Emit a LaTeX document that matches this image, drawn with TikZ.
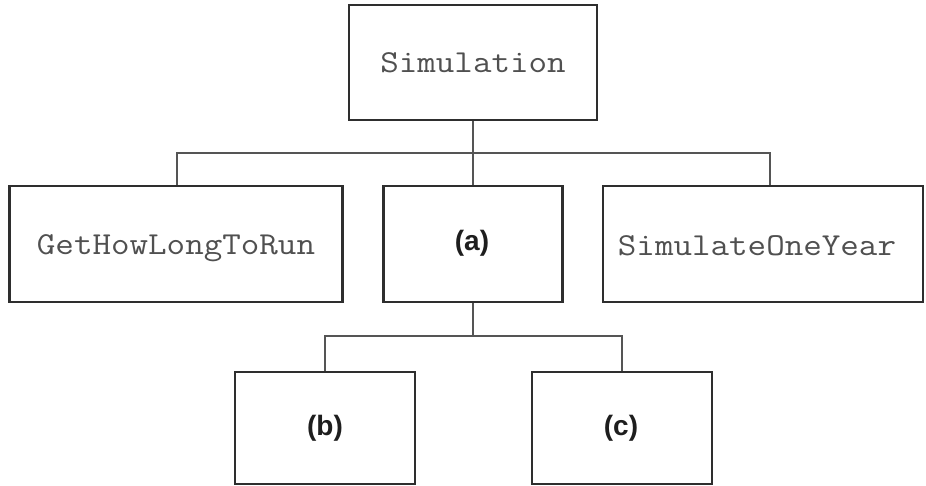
\documentclass[tikz,border=0pt]{standalone}
\usepackage{fontspec}
\setmainfont{Liberation Sans}
\newfontfamily\codefont{Latin Modern Mono}[FakeStretch=1.125]
\definecolor{boxline}{HTML}{2E2E2E}
\definecolor{connline}{HTML}{555555}
\definecolor{codetext}{HTML}{505050}
\definecolor{labeltext}{HTML}{1E1E1E}
\tikzset{
  modbox/.style={draw=boxline, line width=2.2pt, rectangle, inner sep=0pt},
  codelabel/.style={font=\codefont\fontsize{32}{33}\selectfont, text=codetext, text height=22pt, text depth=6pt},
  letterlabel/.style={font=\bfseries\fontsize{28}{29}\selectfont, text=labeltext, text height=20pt, text depth=6pt},
  conn/.style={draw=connline, line width=1.2pt}
}
\begin{document}
\begin{tikzpicture}[x=1pt,y=-1pt]
\useasboundingbox (0,0) rectangle (926,486);
\fill[white] (0,0) rectangle (926,486);
\node[modbox, minimum width=248pt, minimum height=115pt] (sim) at (473,62.5) {};
\node[codelabel] (simt) at (473,65) {Simulation};
\node[modbox, minimum width=333pt, minimum height=116pt] (ghl) at (176,244) {};
\node[codelabel] (ghlt) at (176,247) {GetHowLongToRun};
\node[modbox, minimum width=179pt, minimum height=116pt] (a) at (473,244) {};
\node[letterlabel] (at) at (472,243.5) {(a)};
\node[modbox, minimum width=180pt, minimum height=112pt] (b) at (325,428) {};
\node[letterlabel] (bt) at (325,428) {(b)};
\node[modbox, minimum width=320pt, minimum height=116pt] (soy) at (763,244) {};
\node[codelabel] (soyt) at (757,248) {SimulateOneYear};
\node[modbox, minimum width=180pt, minimum height=112pt] (c) at (622,428) {};
\node[letterlabel] (ct) at (621,428) {(c)};
\coordinate (bus1) at (473,153);
\coordinate (bus2) at (473,336);
\draw[conn] (sim.south) -- (a.north);
\draw[conn] ([xshift=1pt]ghl.north) |- (bus1) -| ([xshift=7pt]soy.north);
\draw[conn] (a.south) -- (bus2);
\draw[conn] (b.north) |- (bus2) -| (c.north);
\end{tikzpicture}
\end{document}
